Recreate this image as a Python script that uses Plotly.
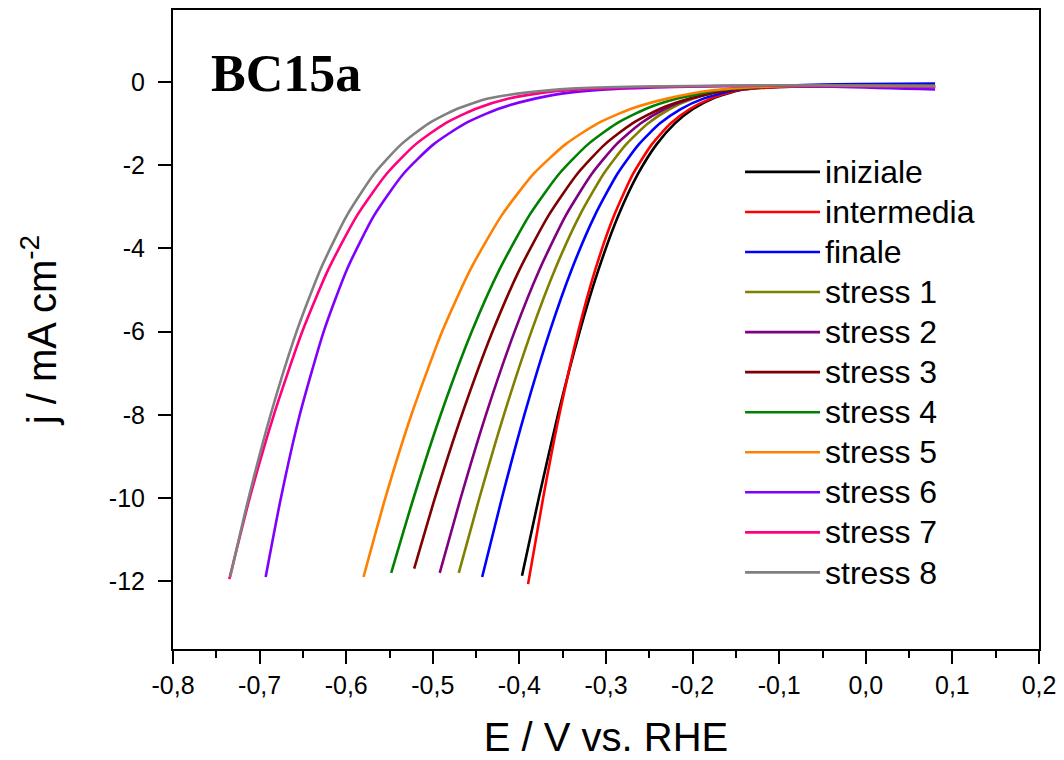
import plotly.graph_objects as go

# ---- data (E in V vs RHE, j in mA cm-2) ----
names = ["iniziale", "intermedia", "finale", "stress 1", "stress 2", "stress 3",
         "stress 4", "stress 5", "stress 6", "stress 7", "stress 8"]
colors = ["#000000", "#FF0000", "#0000FF", "#808000", "#800080", "#800000",
          "#008000", "#FF8000", "#8000FF", "#FF0080", "#808080"]

E_iniziale = [-0.397, -0.3776, -0.3555, -0.3304, -0.3085, -0.2855, -0.2628, -0.2416, -0.2207, -0.1995, -0.1767, -0.146, -0.11, -0.05, 0.08]
j_iniziale = [-11.87, -10.0, -8.0, -6.0, -4.5, -3.2, -2.2, -1.5, -1.0, -0.65, -0.4, -0.2, -0.13, -0.10, -0.12]

E_intermedia = [-0.390, -0.3726, -0.3539, -0.3321, -0.3122, -0.2905, -0.2685, -0.2471, -0.2255, -0.2032, -0.1788, -0.148, -0.11, -0.05, 0.08]
j_intermedia = [-12.07, -10.0, -8.0, -6.0, -4.5, -3.2, -2.2, -1.5, -1.0, -0.65, -0.4, -0.2, -0.13, -0.10, -0.12]

E_finale = [-0.443, -0.4202, -0.3943, -0.365, -0.3395, -0.3127, -0.2866, -0.2621, -0.238, -0.2137, -0.1875, -0.153, -0.115, -0.05, 0.08]
j_finale = [-11.9, -10.0, -8.0, -6.0, -4.5, -3.2, -2.2, -1.5, -1.0, -0.65, -0.4, -0.2, -0.11, -0.06, -0.04]

E_stress1 = [-0.470, -0.4462, -0.4179, -0.3862, -0.3588, -0.3302, -0.3025, -0.2768, -0.2516, -0.2264, -0.1992, -0.163, -0.12, -0.05, 0.08]
j_stress1 = [-11.8, -10.0, -8.0, -6.0, -4.5, -3.2, -2.2, -1.5, -1.0, -0.65, -0.4, -0.2, -0.12, -0.09, -0.10]

E_stress2 = [-0.492, -0.4678, -0.4387, -0.4056, -0.3766, -0.3462, -0.3161, -0.288, -0.2602, -0.2322, -0.2017, -0.163, -0.12, -0.05, 0.08]
j_stress2 = [-11.8, -10.0, -8.0, -6.0, -4.5, -3.2, -2.2, -1.5, -1.0, -0.65, -0.4, -0.2, -0.12, -0.09, -0.10]

E_stress3 = [-0.5215, -0.4975, -0.4664, -0.431, -0.3996, -0.3661, -0.3328, -0.3013, -0.2699, -0.238, -0.2032, -0.16, -0.12, -0.05, 0.08]
j_stress3 = [-11.7, -10.0, -8.0, -6.0, -4.5, -3.2, -2.2, -1.5, -1.0, -0.65, -0.4, -0.2, -0.12, -0.09, -0.10]

E_stress4 = [-0.548, -0.5222, -0.4909, -0.455, -0.4228, -0.3884, -0.3538, -0.3209, -0.288, -0.2544, -0.2176, -0.17, -0.12, -0.05, 0.08]
j_stress4 = [-11.8, -10.0, -8.0, -6.0, -4.5, -3.2, -2.2, -1.5, -1.0, -0.65, -0.4, -0.2, -0.12, -0.09, -0.10]

E_stress5 = [-0.580, -0.5548, -0.5247, -0.4892, -0.4564, -0.4203, -0.3832, -0.3469, -0.31, -0.2717, -0.2294, -0.177, -0.125, -0.05, 0.08]
j_stress5 = [-11.9, -10.0, -8.0, -6.0, -4.5, -3.2, -2.2, -1.5, -1.0, -0.65, -0.4, -0.2, -0.12, -0.09, -0.10]

E_stress6 = [-0.693, -0.6754, -0.6536, -0.626, -0.599, -0.5676, -0.5336, -0.4992, -0.463, -0.4248, -0.3819, -0.34, -0.30, -0.22, -0.10, 0.08]
j_stress6 = [-11.9, -10.0, -8.0, -6.0, -4.5, -3.2, -2.2, -1.5, -1.0, -0.65, -0.4, -0.25, -0.18, -0.12, -0.09, -0.18]

E_stress7 = [-0.735, -0.7114, -0.6835, -0.6507, -0.6205, -0.5872, -0.553, -0.5199, -0.486, -0.451, -0.4123, -0.37, -0.32, -0.25, -0.10, 0.08]
j_stress7 = [-11.95, -10.0, -8.0, -6.0, -4.5, -3.2, -2.2, -1.5, -1.0, -0.65, -0.4, -0.25, -0.17, -0.12, -0.09, -0.12]

E_stress8 = [-0.734, -0.7127, -0.6873, -0.6573, -0.6296, -0.599, -0.5674, -0.5365, -0.505, -0.4724, -0.4362, -0.39, -0.34, -0.26, -0.10, 0.08]
j_stress8 = [-11.9, -10.0, -8.0, -6.0, -4.5, -3.2, -2.2, -1.5, -1.0, -0.65, -0.4, -0.25, -0.16, -0.11, -0.08, -0.10]

x_tickvals = [-0.8, -0.7, -0.6, -0.5, -0.4, -0.3, -0.2, -0.1, 0.0, 0.1, 0.2]
x_ticktext = ["-0,8", "-0,7", "-0,6", "-0,5", "-0,4", "-0,3", "-0,2", "-0,1", "0,0", "0,1", "0,2"]
x_minor = [-0.75, -0.65, -0.55, -0.45, -0.35, -0.25, -0.15, -0.05, 0.05, 0.15]
y_tickvals = [0, -2, -4, -6, -8, -10, -12]
y_ticktext = ["0", "-2", "-4", "-6", "-8", "-10", "-12"]

series_E = [E_iniziale, E_intermedia, E_finale, E_stress1, E_stress2, E_stress3,
            E_stress4, E_stress5, E_stress6, E_stress7, E_stress8]
series_j = [j_iniziale, j_intermedia, j_finale, j_stress1, j_stress2, j_stress3,
            j_stress4, j_stress5, j_stress6, j_stress7, j_stress8]

fig = go.Figure()
for name, E, j, c in zip(names, series_E, series_j, colors):
    fig.add_trace(go.Scatter(x=E, y=j, mode="lines",
                             name='<span style="font-size:32px">' + name + '</span>',
                             line=dict(color=c, width=2.6, shape="spline", smoothing=0.6)))

axis_common = dict(showline=True, linewidth=2, linecolor="black", mirror=True,
                   showgrid=False, zeroline=False, ticks="outside", tickwidth=2,
                   tickcolor="black", ticklen=13)

fig.update_layout(
    width=1064, height=760,
    margin=dict(l=173, r=25, t=8, b=111),
    paper_bgcolor="white", plot_bgcolor="white",
    font=dict(family="Liberation Sans, Arial, sans-serif", color="black"),
    xaxis=dict(range=[-0.8, 0.2], tickmode="array", tickvals=x_tickvals, ticktext=x_ticktext,
               tickfont=dict(size=25),
               minor=dict(ticks="outside", ticklen=7, tickwidth=2, tickcolor="black",
                          tickmode="array", tickvals=x_minor),
               title=dict(text="E / V vs. RHE", font=dict(size=40), standoff=25),
               **axis_common),
    yaxis=dict(range=[-13.63, 1.73], tickmode="array", tickvals=y_tickvals, ticktext=y_ticktext,
               tickfont=dict(size=25), ticklabelstandoff=8,
               title=dict(text="j / mA cm<sup>-2</sup>", font=dict(size=40), standoff=40),
               **axis_common),
    showlegend=True,
    legend=dict(x=0.6548, y=0.7858, xanchor="left", yanchor="top",
                font=dict(size=28.5), bgcolor="rgba(0,0,0,0)", borderwidth=0,
                itemwidth=75, tracegroupgap=0),
    annotations=[dict(text="<b>BC15a</b>", xref="paper", yref="paper",
                      x=0.0416, y=0.901, xanchor="left", yanchor="middle",
                      showarrow=False,
                      font=dict(family="Liberation Serif, Times New Roman, serif", size=52, color="black"))],
)

fig.write_html("out.html")
